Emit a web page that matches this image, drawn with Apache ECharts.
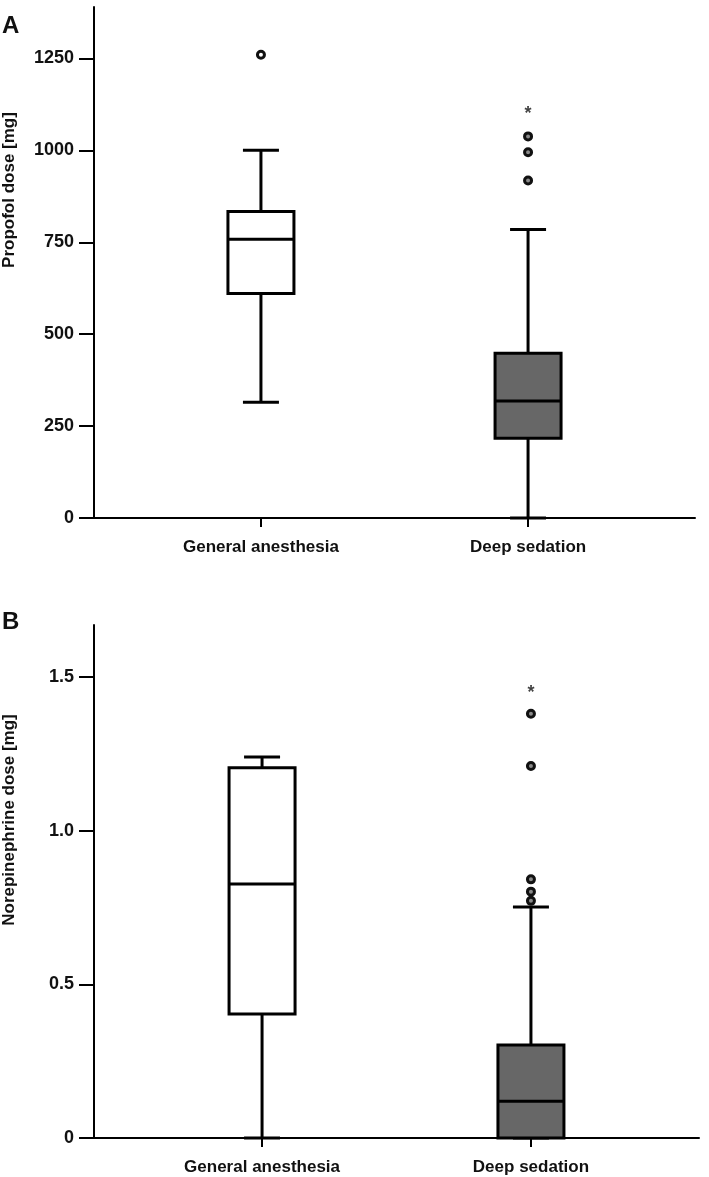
<!DOCTYPE html>
<html>
<head>
<meta charset="utf-8">
<script src="https://cdn.jsdelivr.net/npm/echarts@6/dist/echarts.min.js"></script>
<style>
html,body{margin:0;padding:0;background:#fff;}
#chart{width:709px;height:1177px;}
</style>
</head>
<body>
<div id="chart"></div>
<script>
// ---- data ----
const groups = ['General anesthesia', 'Deep sedation'];
const groupPos = [2.5, 6.5];

// Panel A: propofol dose [mg]  [min, Q1, median, Q3, max]
const propofolGA = [315, 611, 758, 834, 1000];
const propofolDS = [0, 217, 318, 448, 785];
const propofolOutGA = [1260];
const propofolOutDS = [918, 995, 1038];
const propofolStarDS = [1100];
const propofolTicks = [0, 250, 500, 750, 1000, 1250];

// Panel B: norepinephrine dose [mg]  [min, Q1, median, Q3, max]
const norepiGA = [0, 0.404, 0.827, 1.205, 1.24];
const norepiDS = [0, 0, 0.12, 0.303, 0.752];
const norepiOutGA = [];
const norepiOutDS = [0.772, 0.802, 0.842, 1.211, 1.381];
const norepiStarDS = [1.45];
const norepiTicks = [0, 0.5, 1.0, 1.5];

// ---- styles ----
const FONT = '"Liberation Sans", Arial, Helvetica, sans-serif';
const boxFills = ['#ffffff', '#676767'];
const holeFills = ['#ffffff', '#8a8a8a'];
const BOX_W = 66;
const CAP_W = 36;
const LW = 3;

function renderBox(params, api) {
  const x = api.value(0);
  const pMin = api.coord([x, api.value(1)]);
  const pQ1 = api.coord([x, api.value(2)]);
  const pMed = api.coord([x, api.value(3)]);
  const pQ3 = api.coord([x, api.value(4)]);
  const pMax = api.coord([x, api.value(5)]);
  const cx = pMed[0];
  const ls = {stroke: '#000', lineWidth: LW, fill: null};
  const fill = boxFills[params.dataIndex];
  return {
    type: 'group',
    children: [
      {type: 'line', shape: {x1: cx, y1: pQ3[1], x2: cx, y2: pMax[1]}, style: ls},
      {type: 'line', shape: {x1: cx, y1: pMin[1], x2: cx, y2: pQ1[1]}, style: ls},
      {type: 'line', shape: {x1: cx - CAP_W / 2, y1: pMax[1], x2: cx + CAP_W / 2, y2: pMax[1]}, style: ls},
      {type: 'line', shape: {x1: cx - CAP_W / 2, y1: pMin[1], x2: cx + CAP_W / 2, y2: pMin[1]}, style: ls},
      {type: 'rect', shape: {x: cx - BOX_W / 2, y: pQ3[1], width: BOX_W, height: pQ1[1] - pQ3[1]},
        style: {fill: fill, stroke: '#000', lineWidth: LW}},
      {type: 'line', shape: {x1: cx - BOX_W / 2, y1: pMed[1], x2: cx + BOX_W / 2, y2: pMed[1]}, style: ls}
    ]
  };
}

function boxData(ga, ds) {
  return [[groupPos[0]].concat(ga), [groupPos[1]].concat(ds)];
}
function outData(outGA, outDS) {
  const d = [];
  outGA.forEach(v => d.push({value: [groupPos[0], v], itemStyle: {color: holeFills[0]}}));
  outDS.forEach(v => d.push({value: [groupPos[1], v], itemStyle: {color: holeFills[1]}}));
  return d;
}

const grids = [
  {left: 94, top: 7, width: 601, height: 511},
  {left: 94, top: 625, width: 605, height: 513}
];

function xAxisFor(idx) {
  return {
    type: 'value', gridIndex: idx, min: 0, max: 9,
    splitLine: {show: false},
    axisLine: {show: true, onZero: false, lineStyle: {color: '#000', width: 2}},
    axisTick: {show: true, length: 9, lineStyle: {color: '#000', width: 2}, customValues: groupPos},
    axisLabel: {
      customValues: groupPos, margin: 21,
      formatter: v => groups[groupPos.indexOf(v)] || '',
      color: '#111', fontFamily: FONT, fontWeight: 'bold', fontSize: 17
    }
  };
}
function yAxisFor(idx, max, ticks, fmt) {
  return {
    type: 'value', gridIndex: idx, min: 0, max: max,
    splitLine: {show: false},
    axisLine: {show: true, lineStyle: {color: '#000', width: 2}},
    axisTick: {show: true, length: 15, lineStyle: {color: '#000', width: 2}, customValues: ticks},
    axisLabel: {customValues: ticks, margin: 20, formatter: fmt,
      color: '#111', fontFamily: FONT, fontWeight: 'bold', fontSize: 18}
  };
}

const outlierStyle = {
  type: 'scatter', symbol: 'circle', symbolSize: 7,
  itemStyle: {borderColor: '#111', borderWidth: 3, opacity: 1},
  emphasis: {disabled: true}, z: 5
};
const starStyle = {
  type: 'scatter', symbolSize: 1, itemStyle: {color: 'rgba(0,0,0,0)'},
  label: {show: true, formatter: '*', position: 'inside', color: '#111',
    fontFamily: FONT, fontWeight: 'bold', fontSize: 18},
  emphasis: {disabled: true}, z: 6
};

const option = {
  animation: false,
  backgroundColor: '#fff',
  grid: grids,
  xAxis: [xAxisFor(0), xAxisFor(1)],
  yAxis: [
    yAxisFor(0, 1390, propofolTicks, v => String(v)),
    yAxisFor(1, 1.67, norepiTicks, v => v === 0 ? '0' : v.toFixed(1))
  ],
  graphic: [
    {type: 'text', left: 2, top: 14, style: {text: 'A', font: 'bold 24px ' + FONT, fill: '#111'}},
    {type: 'text', left: 2, top: 610, style: {text: 'B', font: 'bold 24px ' + FONT, fill: '#111'}},
    {type: 'text', x: 9, y: 190, rotation: Math.PI / 2,
      style: {text: 'Propofol dose [mg]', font: 'bold 17px ' + FONT, fill: '#111', align: 'center', verticalAlign: 'middle'}},
    {type: 'text', x: 9, y: 820, rotation: Math.PI / 2,
      style: {text: 'Norepinephrine dose [mg]', font: 'bold 17px ' + FONT, fill: '#111', align: 'center', verticalAlign: 'middle'}}
  ],
  series: [
    {type: 'custom', xAxisIndex: 0, yAxisIndex: 0, renderItem: renderBox,
      encode: {x: 0, y: [1, 2, 3, 4, 5]}, data: boxData(propofolGA, propofolDS), z: 3},
    Object.assign({xAxisIndex: 0, yAxisIndex: 0, data: outData(propofolOutGA, propofolOutDS)}, outlierStyle),
    Object.assign({xAxisIndex: 0, yAxisIndex: 0, data: propofolStarDS.map(v => [groupPos[1], v])}, starStyle),
    {type: 'custom', xAxisIndex: 1, yAxisIndex: 1, renderItem: renderBox,
      encode: {x: 0, y: [1, 2, 3, 4, 5]}, data: boxData(norepiGA, norepiDS), z: 3},
    Object.assign({xAxisIndex: 1, yAxisIndex: 1, data: outData(norepiOutGA, norepiOutDS)}, outlierStyle),
    Object.assign({xAxisIndex: 1, yAxisIndex: 1, data: norepiStarDS.map(v => [groupPos[1], v])}, starStyle)
  ]
};

const chart = echarts.init(document.getElementById('chart'), null, {renderer: 'canvas'});
chart.setOption(option);
</script>
</body>
</html>
